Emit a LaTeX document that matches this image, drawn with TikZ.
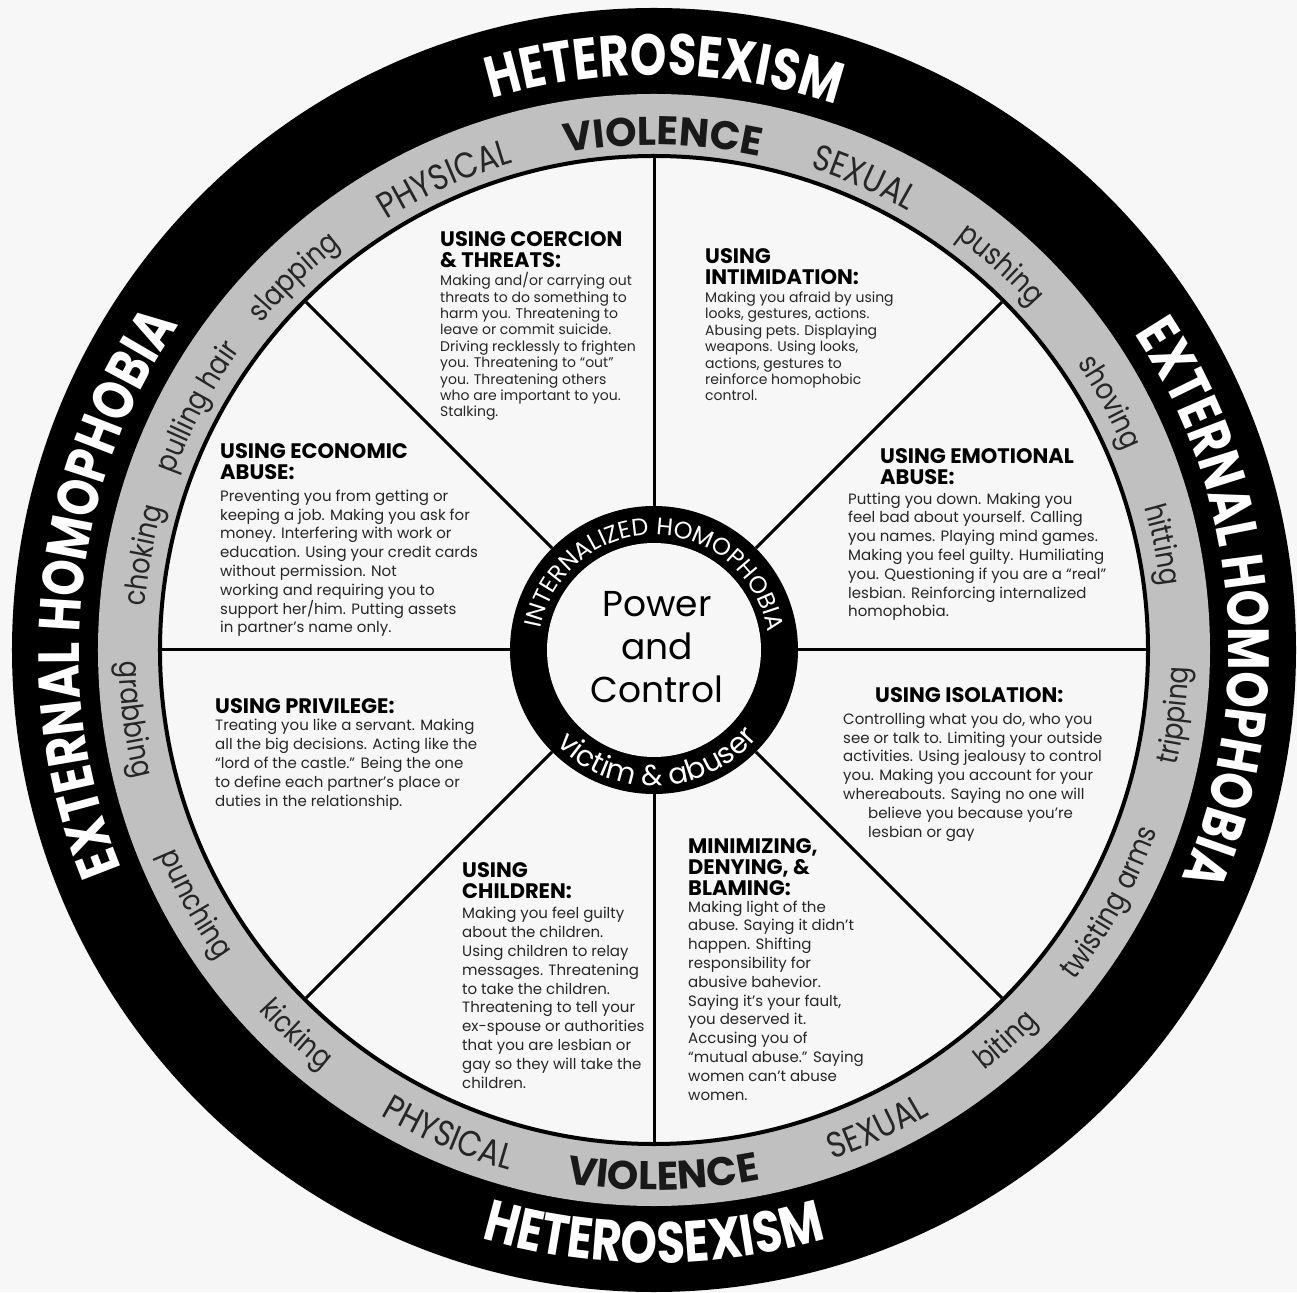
\documentclass[tikz,border=0pt]{standalone}
\usepackage{fontspec}
\setmainfont{Poppins}
\newfontfamily\ringfont[FakeStretch=0.85]{Poppins}
\newfontfamily\bandfont[FakeStretch=0.8]{Poppins}
\usetikzlibrary{decorations.text}
\definecolor{paper}{RGB}{247,247,247}
\definecolor{band}{RGB}{192,192,192}

\newcommand{\bandfmt}{\bandfont\bfseries\fontsize{58}{58}\selectfont\color{white}}
\newcommand{\capsfmt}{\ringfont\fontsize{36}{36}\selectfont\color{black!85}}
\newcommand{\boldfmt}{\bfseries\fontsize{40}{40}\selectfont\color{black!90}}
\newcommand{\wordfmt}{\ringfont\fontsize{30}{30}\selectfont\color{black!85}}
\newcommand{\cwlabel}[4]{%
    \path[decorate, decoration={text along path, text align=center, text={#4}}]
        (#1+#3:#2) arc[start angle=#1+#3, end angle=#1-#3, radius=#2];}
\newcommand{\ccwlabel}[4]{%
    \path[decorate, decoration={text along path, text align=center, text={#4}}]
        (#1-#3:#2) arc[start angle=#1-#3, end angle=#1+#3, radius=#2];}

\begin{document}
\begin{tikzpicture}[x=1pt, y=1pt,
    head/.style={anchor=base west, align=left, inner sep=0pt, font=\fontsize{21}{21}\selectfont\bfseries},
    body/.style={anchor=base west, align=left, inner sep=0pt, text=black!85, font=\fontsize{15}{18.8}\selectfont},
    small body/.style={body, font=\fontsize{14}{16.4}\selectfont},
    hub/.style={circle, fill=black, minimum size=288pt, inner sep=0pt},
    spoke/.style={line width=3pt}]
    \useasboundingbox[fill=paper] (-654,-642) rectangle (643,650);
    \fill[black] (0,0) circle[radius=642];
    \fill[band] (0,0) circle[radius=556];
    \filldraw[fill=paper, draw=black, line width=4pt] (0,0) circle[radius=494];
    \node[hub] (hub) at (0,0) {};
    \fill[paper] (hub) circle[radius=107];
    \foreach \a in {0,45,...,315}
        \draw[spoke] (hub.\a) -- (\a:492);
    \node[align=center, font=\fontsize{36}{43}\selectfont] (pc) at (3,3) {Power\\and\\Control};

    \cwlabel{89}{575}{40}{|\bandfmt|HETEROSEXISM}
    \ccwlabel{270}{613}{40}{|\bandfmt|HETEROSEXISM}
    \cwlabel{174}{575}{45}{|\bandfmt|EXTERNAL HOMOPHOBIA}
    \cwlabel{5}{575}{45}{|\bandfmt|EXTERNAL HOMOPHOBIA}

    \cwlabel{114}{507}{25}{|\capsfmt|PHYSICAL}
    \cwlabel{89}{505}{25}{|\boldfmt|VIOLENCE}
    \cwlabel{66}{507}{25}{|\capsfmt|SEXUAL}
    \cwlabel{48}{511}{20}{|\wordfmt|pushing}
    \cwlabel{28.5}{511}{20}{|\wordfmt|shoving}
    \cwlabel{11.7}{511}{20}{|\wordfmt|hitting}
    \cwlabel{134}{511}{20}{|\wordfmt|slapping}
    \cwlabel{152}{511}{20}{|\wordfmt|pulling hair}
    \cwlabel{169.5}{511}{20}{|\wordfmt|choking}
    \ccwlabel{352.8}{535}{20}{|\wordfmt|tripping}
    \ccwlabel{331}{535}{20}{|\wordfmt|twisting arms}
    \ccwlabel{312}{535}{20}{|\wordfmt|biting}
    \ccwlabel{295}{540}{25}{|\capsfmt|SEXUAL}
    \ccwlabel{271}{540}{25}{|\boldfmt|VIOLENCE}
    \ccwlabel{247}{540}{25}{|\capsfmt|PHYSICAL}
    \ccwlabel{227}{535}{20}{|\wordfmt|kicking}
    \ccwlabel{209}{535}{20}{|\wordfmt|punching}
    \ccwlabel{187.6}{535}{20}{|\wordfmt|grabbing}

    \cwlabel{89}{115}{100}{|\fontsize{24}{24}\selectfont\color{white}|INTERNALIZED HOMOPHOBIA}
    \ccwlabel{272}{136}{80}{|\fontsize{29}{29}\selectfont\color{white}|victim {\&} abuser}

    \node[head] (coerHd) at (-214,382) {USING COERCION\\\& THREATS:};
    \node[small body] (coerTx) at (-214,233) {Making and/or carrying out\\threats to do something to\\harm you.  Threatening to\\leave or commit suicide.\\Driving recklessly to frighten\\you.  Threatening to “out”\\you.  Threatening others\\who are important to you.\\Stalking.};
    \node[head] (intiHd) at (51,365) {USING\\INTIMIDATION:};
    \node[small body] (intiTx) at (51,249) {Making you afraid by using\\looks, gestures, actions.\\Abusing pets.  Displaying\\weapons.  Using looks,\\actions, gestures to\\reinforce homophobic\\control.};
    \node[head] (econHd) at (-434,170) {USING ECONOMIC\\ABUSE:};
    \node[body] (econTx) at (-434,17) {Preventing you from getting or\\keeping a job.  Making you ask for\\money.  Interfering with work or\\education.  Using your credit cards\\without permission.  Not\\working and requiring you to\\support her/him.  Putting assets\\in partner’s name only.};
    \node[head] (emotHd) at (226,165) {USING EMOTIONAL\\ABUSE:};
    \node[body] (emotTx) at (194,33) {Putting you down.  Making you\\feel bad about yourself.  Calling\\you names.  Playing mind games.\\Making you feel guilty.  Humiliating\\you.  Questioning if you are a “real”\\lesbian.  Reinforcing internalized\\homophobia.};
    \node[head] (privHd) at (-439,-63) {USING PRIVILEGE:};
    \node[body] (privTx) at (-439,-156) {Treating you like a servant.  Making\\all the big decisions.  Acting like the\\“lord of the castle.”  Being the one\\to define each partner’s place or\\duties in the relationship.};
    \node[head] (isolHd) at (221,-52) {USING ISOLATION:};
    \node[body] (isolTx) at (189,-187) {Controlling what you do, who you\\see or talk to.  Limiting your outside\\activities.  Using jealousy to control\\you.  Making you account for your\\whereabouts.  Saying no one will\\\hspace*{25pt}believe you because you’re\\\hspace*{25pt}lesbian or gay};
    \node[head] (chldHd) at (-192,-248) {USING\\CHILDREN:};
    \node[body] (chldTx) at (-192,-438) {Making you feel guilty\\about the children.\\Using children to relay\\messages.  Threatening\\to take the children.\\Threatening to tell your\\ex-spouse or authorities\\that you are lesbian or\\gay so they will take the\\children.};
    \node[head] (miniHd) at (34,-245) {MINIMIZING,\\DENYING, \&\\BLAMING:};
    \node[body] (miniTx) at (34,-450) {Making light of the\\abuse.  Saying it didn’t\\happen.  Shifting\\responsibility for\\abusive bahevior.\\Saying it’s your fault,\\you deserved it.\\Accusing you of\\“mutual abuse.”  Saying\\women can’t abuse\\women.};
\end{tikzpicture}
\end{document}
